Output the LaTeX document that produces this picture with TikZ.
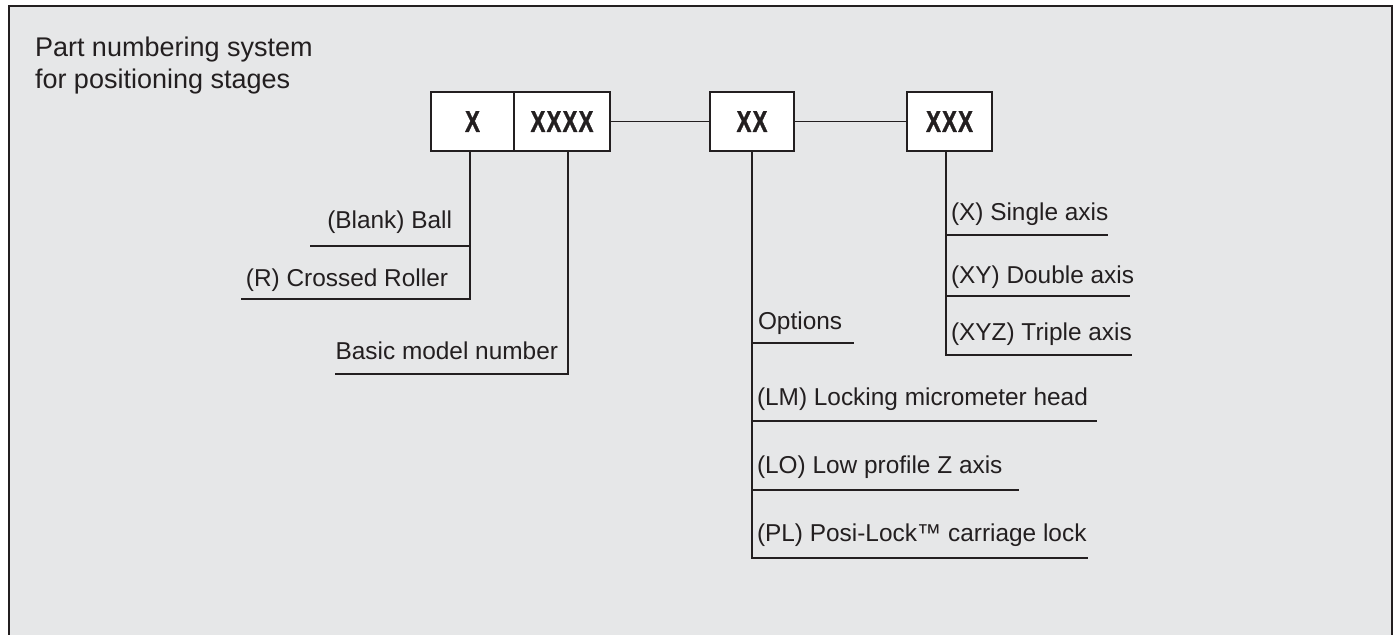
\documentclass[tikz,border=0pt]{standalone}
\usepackage{fontspec}
\setmainfont{Liberation Sans}
\newfontfamily\codefont{Liberation Sans Bold}[FakeStretch=0.74, FakeBold=1.2, LetterSpace=4]
\definecolor{bg}{HTML}{E6E7E8}
\definecolor{ink}{HTML}{231F20}
\begin{document}
\begin{tikzpicture}[x=0.5pt,y=-0.5pt,
  lbl/.style={inner sep=0pt, outer sep=0pt, font=\fontsize{12.2}{14}\selectfont, text=ink},
  ttl/.style={inner sep=0pt, outer sep=0pt, font=\fontsize{13.5}{15.6}\selectfont, text=ink, align=left},
  codebox/.style={draw=ink, line width=1pt, fill=white, minimum height=29.5pt, inner sep=0pt,
     font=\codefont\fontsize{15}{16}\selectfont, text=ink},
  conn/.style={draw=ink, line width=0.85pt}]
\useasboundingbox (0,0) rectangle (1394,634);
% frame
\draw[ink, line width=1pt, fill=bg] (9,6) rectangle (1392,660);
% title
\node[ttl, anchor=base west] (t1) at (35,56) {Part numbering system};
\node[ttl, anchor=base west] (t2) at (35,88) {for positioning stages};
% code boxes
\node[codebox, minimum width=41.5pt] (bx) at (472.5,121.5) {X};
\node[codebox, minimum width=48pt] (bxxxx) at (562,121.5) {XXXX};
\node[codebox, minimum width=42pt] (bxx) at (752,121.5) {XX};
\node[codebox, minimum width=42.5pt] (bxxx) at (949.5,121.5) {XXX};
\draw[conn] (bxxxx.east) -- (bxx.west);
\draw[conn] (bxx.east) -- (bxxx.west);
% X branch
\coordinate (xc) at (470,299);
\coordinate (xr) at (241,299);
\coordinate (xb1) at (310,246);
\coordinate (xb2) at (470,246);
\draw[conn] (bx.south -| xc) -- (xc) -- (xr);
\draw[conn] (xb1) -- (xb2);
\node[lbl, anchor=base east] (lball) at (452,228) {(Blank) Ball};
\node[lbl, anchor=base east] (lroll) at (448,286) {(R) Crossed Roller};
% XXXX branch
\coordinate (mc) at (568,374);
\coordinate (mr) at (335,374);
\draw[conn] (bxxxx.south -| mc) -- (mc) -- (mr);
\node[lbl, anchor=base east] (lbasic) at (558,359) {Basic model number};
% XX branch
\coordinate (oc) at (752,558);
\coordinate (or) at (1088,558);
\draw[conn] (bxx.south) -- (oc) -- (or);
\coordinate (o1a) at (752,343); \coordinate (o1b) at (854,343);
\coordinate (o2a) at (752,421); \coordinate (o2b) at (1097,421);
\coordinate (o3a) at (752,490); \coordinate (o3b) at (1019,490);
\draw[conn] (o1a) -- (o1b);
\draw[conn] (o2a) -- (o2b);
\draw[conn] (o3a) -- (o3b);
\node[lbl, anchor=base west] (lopt) at (758,329) {Options};
\node[lbl, anchor=base west] (llm) at (757,405) {(LM) Locking micrometer head};
\node[lbl, anchor=base west] (llo) at (757,473) {(LO) Low profile Z axis};
\node[lbl, anchor=base west] (lpl) at (757,541) {(PL) Posi-Lock™ carriage lock};
% XXX branch
\coordinate (ac) at (946,355);
\coordinate (ar) at (1132,355);
\draw[conn] (bxxx.south -| ac) -- (ac) -- (ar);
\coordinate (a1a) at (946,235); \coordinate (a1b) at (1108,235);
\coordinate (a2a) at (946,296); \coordinate (a2b) at (1130,296);
\draw[conn] (a1a) -- (a1b);
\draw[conn] (a2a) -- (a2b);
\node[lbl, anchor=base west] (lx) at (951,220) {(X) Single axis};
\node[lbl, anchor=base west] (lxy) at (951,283) {(XY) Double axis};
\node[lbl, anchor=base west] (lxyz) at (951,340) {(XYZ) Triple axis};
\end{tikzpicture}
\end{document}
